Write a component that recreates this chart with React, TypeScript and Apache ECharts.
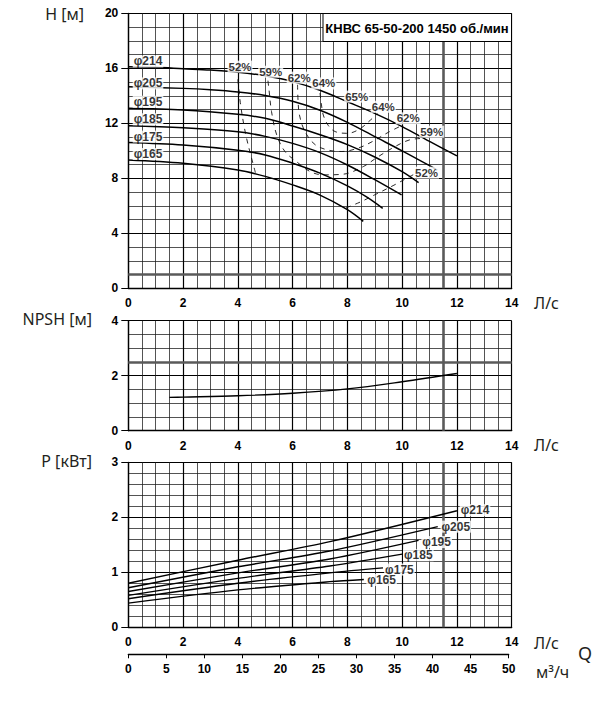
import React, { useEffect, useRef } from 'react';
import * as echarts from 'echarts';

// ---------- data ----------
const diameterNames = ['φ214', 'φ205', 'φ195', 'φ185', 'φ175', 'φ165'];

// Head curves H(Q): [Q l/s, H m]
const head214: [number, number][] = [[0, 16.12], [1, 16.07], [2, 15.97], [3, 15.87], [4, 15.72], [5, 15.45], [6, 15.03], [7, 14.4], [8, 13.57], [9, 12.72], [10, 11.76], [11, 10.68], [12, 9.63]];
const head205: [number, number][] = [[0, 14.66], [2, 14.54], [3, 14.44], [4, 14.28], [5, 14.02], [6, 13.6], [7, 12.95], [8, 12.07], [9, 11.03], [10, 10.0], [11, 8.92], [11.28, 8.6]];
const head195: [number, number][] = [[0, 13.09], [2, 12.97], [4, 12.65], [5, 12.36], [6, 11.8], [7, 11.17], [8, 10.45], [9, 9.55], [10, 8.48], [10.6, 7.68]];
const head185: [number, number][] = [[0, 11.83], [2, 11.68], [4, 11.39], [5, 11.05], [6, 10.54], [7, 9.87], [8, 8.97], [9, 7.9], [9.98, 6.79]];
const head175: [number, number][] = [[0, 10.6], [2, 10.42], [4, 10.04], [5, 9.7], [6, 9.1], [7, 8.38], [8, 7.45], [8.7, 6.65], [9.29, 5.82]];
const head165: [number, number][] = [[0, 9.33], [2, 9.09], [4, 8.6], [5, 8.14], [6, 7.52], [7, 6.78], [8, 5.72], [8.58, 4.87]];
const headCurves = [head214, head205, head195, head185, head175, head165];

// Diameter label anchors on the head chart
const headLabelQ = [0.72, 0.72, 0.72, 0.72, 0.72, 0.72];
const headLabelH = [16.5, 14.9, 13.57, 12.29, 11.03, 9.77];

// Iso-efficiency lines (dashed)
const eff52Left: [number, number][] = [[4.0, 15.2], [4.03, 14.6], [4.09, 13.5], [4.2, 12.1], [4.32, 10.9], [4.47, 9.7], [4.65, 8.35]];
const eff52Right: [number, number][] = [[7.95, 5.85], [8.5, 6.3], [9.0, 6.8], [9.7, 7.5], [10.3, 8.15], [10.55, 8.4]];
const eff59: [number, number][] = [[5.1, 15.1], [5.14, 14.4], [5.23, 12.85], [5.42, 11.15], [5.72, 9.95], [6.15, 9.2], [6.63, 8.5], [7.12, 8.25], [7.85, 8.3], [8.58, 8.85], [9.07, 9.5], [9.6, 10.15], [10.28, 10.8], [10.8, 10.9]];
const eff62: [number, number][] = [[6.18, 14.8], [6.2, 13.6], [6.25, 12.6], [6.45, 11.4], [6.82, 10.45], [7.3, 10.05], [7.8, 9.95], [8.4, 10.2], [8.9, 10.66], [9.5, 11.35], [9.95, 11.8]];
const eff64: [number, number][] = [[7.0, 14.2], [7.05, 13.4], [7.12, 12.6], [7.3, 11.85], [7.55, 11.4], [8.0, 11.27], [8.46, 11.6], [8.85, 12.25], [9.1, 12.7]];
const effLines = [eff52Left, eff52Right, eff59, eff62, eff64];

const effLabelText = ['52%', '59%', '62%', '64%', '65%', '64%', '62%', '59%', '52%'];
const effLabelQ = [4.08, 5.2, 6.24, 7.14, 8.34, 9.31, 10.22, 11.08, 10.89];
const effLabelH = [16.12, 15.75, 15.32, 14.9, 13.94, 13.2, 12.36, 11.39, 8.41];

// NPSH curve
const npsh: [number, number][] = [[1.5, 1.21], [2, 1.22], [4, 1.27], [6, 1.36], [8, 1.52], [10, 1.78], [12, 2.08]];

// Power curves P(Q): [Q l/s, P kW]
const power214: [number, number][] = [[0, 0.8], [4, 1.22], [7.36, 1.557], [12, 2.12]];
const power205: [number, number][] = [[0, 0.72], [4, 1.1], [7.36, 1.387], [11.3, 1.83]];
const power195: [number, number][] = [[0, 0.65], [4, 0.99], [7.36, 1.242], [10.6, 1.58]];
const power185: [number, number][] = [[0, 0.58], [4, 0.89], [7.36, 1.115], [10.0, 1.33]];
const power175: [number, number][] = [[0, 0.52], [4, 0.8], [7.36, 0.99], [9.3, 1.08]];
const power165: [number, number][] = [[0, 0.44], [4, 0.68], [7.36, 0.83], [8.6, 0.87]];
const powerCurves = [power214, power205, power195, power185, power175, power165];

const powerLabelQ = [12.66, 11.96, 11.26, 10.59, 9.9, 9.25];
const powerLabelP = [2.13, 1.83, 1.55, 1.31, 1.05, 0.86];

// Reference lines
const refQ = 11.5;
const refHead = 1;
const refNpsh = 2.5;

// Axes
const qMax = 14;
const qInterval = 2;
const headMax = 20;
const headInterval = 4;
const npshMax = 4;
const npshInterval = 2;
const powerMax = 3;
const powerInterval = 1;
const m3hMax = 50;
const m3hInterval = 5;

const chartTitle = 'КНВС 65-50-200 1450 об./мин';

// ---------- styling ----------
const FONT_N = '"Liberation Sans Narrow", "Arial Narrow", "Liberation Sans", Arial, sans-serif';
const FONT_T = '"Noto Sans", "Open Sans", sans-serif';
const GL = 128.3;
const GW = 383.4;

const tickLabel = { color: '#000', fontFamily: FONT_N, fontWeight: 'bold' as const, fontSize: 12 };

function mkX(gridIndex: number) {
  return {
    type: 'value', gridIndex, min: 0, max: qMax, interval: qInterval,
    axisLine: { show: true, onZero: false, lineStyle: { color: '#000', width: 1.3 } },
    axisTick: { show: false },
    axisLabel: { ...tickLabel, margin: 9 },
    splitLine: { show: true, lineStyle: { color: '#000', width: 1.2 } },
    minorTick: { show: false, splitNumber: 4 },
    minorSplitLine: { show: true, lineStyle: { color: '#1a1a1a', width: 0.75 } },
  };
}
function mkY(gridIndex: number, max: number, interval: number, minor: number) {
  return {
    type: 'value', gridIndex, min: 0, max, interval,
    axisLine: { show: true, onZero: false, lineStyle: { color: '#000', width: 1.3 } },
    axisTick: { show: true, length: 7, lineStyle: { color: '#000', width: 1 } },
    axisLabel: { ...tickLabel, margin: 10 },
    splitLine: { show: true, lineStyle: { color: '#000', width: 1.2 } },
    minorTick: { show: false, splitNumber: minor },
    minorSplitLine: { show: true, lineStyle: { color: '#1a1a1a', width: 0.75 } },
  };
}

const refLineStyle = { color: '#5a5a5a', width: 2.6, type: 'solid' as const };

function buildOption() {
  const series: any[] = [];

  headCurves.forEach((d, i) => {
    const s: any = {
      type: 'line', xAxisIndex: 0, yAxisIndex: 0, data: d,
      smooth: 0.35, symbol: 'none', silent: true, z: 5,
      lineStyle: { color: '#000', width: 1.5 },
    };
    if (i === 0) {
      s.markLine = {
        silent: true, symbol: ['none', 'none'], label: { show: false }, z: 3,
        lineStyle: refLineStyle,
        data: [{ xAxis: refQ }, { yAxis: refHead }],
      };
    }
    series.push(s);
  });

  effLines.forEach((d) => {
    series.push({
      type: 'line', xAxisIndex: 0, yAxisIndex: 0, data: d,
      smooth: 0.35, symbol: 'none', silent: true, z: 4,
      lineStyle: { color: '#111', width: 0.9, type: [5, 5] },
    });
  });

  series.push({
    type: 'scatter', xAxisIndex: 0, yAxisIndex: 0, silent: true, z: 8,
    symbolSize: 1, itemStyle: { color: 'rgba(0,0,0,0)' },
    data: effLabelText.map((t, i) => [effLabelQ[i], effLabelH[i], t]),
    label: {
      show: true, position: 'inside', formatter: (p: any) => p.data[2],
      fontFamily: FONT_N, fontWeight: 'bold', fontSize: 11.5, color: '#000',
      backgroundColor: '#fff', padding: [0, 1],
    },
  });

  series.push({
    type: 'scatter', xAxisIndex: 0, yAxisIndex: 0, silent: true, z: 8,
    symbolSize: 1, itemStyle: { color: 'rgba(0,0,0,0)' },
    data: diameterNames.map((t, i) => [headLabelQ[i], headLabelH[i], t]),
    label: {
      show: true, position: 'inside', formatter: (p: any) => p.data[2],
      fontFamily: FONT_N, fontWeight: 'bold', fontSize: 12, color: '#000',
      backgroundColor: '#fff', padding: [0, 1],
    },
  });

  series.push({
    type: 'line', xAxisIndex: 1, yAxisIndex: 1, data: npsh,
    smooth: 0.35, symbol: 'none', silent: true, z: 5,
    lineStyle: { color: '#000', width: 1.4 },
    markLine: {
      silent: true, symbol: ['none', 'none'], label: { show: false }, z: 3,
      lineStyle: refLineStyle,
      data: [{ xAxis: refQ }, { yAxis: refNpsh }],
    },
  });

  powerCurves.forEach((d, i) => {
    const s: any = {
      type: 'line', xAxisIndex: 2, yAxisIndex: 2, data: d,
      smooth: 0.3, symbol: 'none', silent: true, z: 5,
      lineStyle: { color: '#000', width: 1.4 },
    };
    if (i === 0) {
      s.markLine = {
        silent: true, symbol: ['none', 'none'], label: { show: false }, z: 3,
        lineStyle: refLineStyle,
        data: [{ xAxis: refQ }],
      };
    }
    series.push(s);
  });

  series.push({
    type: 'scatter', xAxisIndex: 2, yAxisIndex: 2, silent: true, z: 8,
    symbolSize: 1, itemStyle: { color: 'rgba(0,0,0,0)' },
    data: diameterNames.map((t, i) => [powerLabelQ[i], powerLabelP[i], t]),
    label: {
      show: true, position: 'inside', formatter: (p: any) => p.data[2],
      fontFamily: FONT_N, fontWeight: 'bold', fontSize: 12, color: '#000',
      backgroundColor: '#fff', padding: [0, 1],
    },
  });

  const textStyle = (text: string, x: number, y: number, align: string, size = 16) => ({
    type: 'text', z: 100,
    style: {
      text, x, y, fill: '#231f20', font: `${size}px ${FONT_T}`,
      align, textAlign: align, verticalAlign: 'middle', textVerticalAlign: 'middle',
    },
  });

  return {
    animation: false,
    backgroundColor: '#fff',
    grid: [
      { left: GL, top: 13.3, width: GW, height: 275 },
      { left: GL, top: 320.7, width: GW, height: 110 },
      { left: GL, top: 462.3, width: GW, height: 165 },
      { left: GL, top: 600, width: GW * m3hMax / (qMax * 3.6), height: 54.3 },
    ],
    xAxis: [
      mkX(0), mkX(1), mkX(2),
      {
        type: 'value', gridIndex: 3, min: 0, max: m3hMax, interval: m3hInterval,
        axisLine: { show: true, onZero: false, lineStyle: { color: '#000', width: 1.3 } },
        axisTick: { show: true, length: 4, lineStyle: { color: '#000', width: 1 } },
        axisLabel: { ...tickLabel, margin: 9 },
        splitLine: { show: false },
      },
    ],
    yAxis: [
      mkY(0, headMax, headInterval, 4),
      mkY(1, npshMax, npshInterval, 4),
      mkY(2, powerMax, powerInterval, 5),
      { type: 'value', gridIndex: 3, min: 0, max: 1, show: false },
    ],
    graphic: [
      {
        type: 'rect', z: 100,
        shape: { x: 323, y: 13.5, width: 188.5, height: 28 },
        style: { fill: '#fff', stroke: '#000', lineWidth: 1 },
      },
      {
        type: 'text', z: 101,
        style: {
          text: chartTitle, x: 417, y: 28, fill: '#000',
          font: `bold 13px ${FONT_N}`,
          align: 'center', textAlign: 'center', verticalAlign: 'middle', textVerticalAlign: 'middle',
        },
      },
      textStyle('H [м]', 84, 14, 'right'),
      textStyle('NPSH [м]', 92, 319, 'right'),
      textStyle('P [кВт]', 92, 461, 'right'),
      textStyle('Л/с', 534, 303, 'left'),
      textStyle('Л/с', 534, 445, 'left'),
      textStyle('Л/с', 534, 643, 'left'),
      textStyle('Q', 578, 653, 'left', 18),
      textStyle('м³/ч', 536, 672, 'left'),
    ],
    series,
  };
}

export default function App() {
  const ref = useRef<HTMLDivElement>(null);
  useEffect(() => {
    const chart = echarts.init(ref.current!, undefined, { renderer: 'svg' });
    chart.setOption(buildOption() as any);
    return () => chart.dispose();
  }, []);
  return (
    <div
      ref={ref}
      style={{ position: 'absolute', left: 0, top: 0, width: 598, height: 701, background: '#fff' }}
    />
  );
}
